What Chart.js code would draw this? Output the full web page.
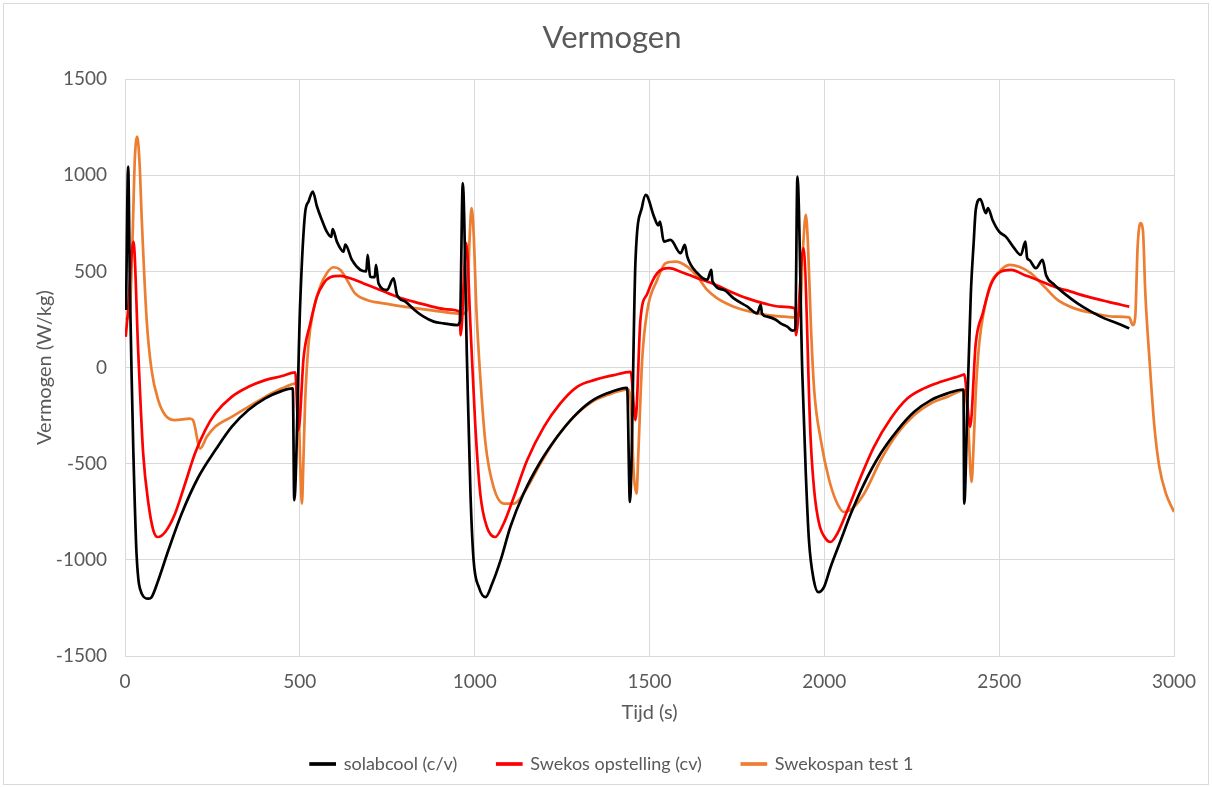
<!DOCTYPE html>
<html>
<head>
<meta charset="utf-8">
<title>Vermogen</title>
<script src="https://cdn.jsdelivr.net/npm/chart.js@4.4.1/dist/chart.umd.min.js"></script>
<style>
  body { margin: 0; background: #ffffff; }
  canvas { display: block; }
</style>
</head>
<body>
<canvas id="vermogenChart" width="1212" height="787"></canvas>
<script>
// meetreeksen: tijd (s) en vermogen (W/kg)
const solabcoolT = [3, 9, 14, 19, 24, 33, 48, 67, 76, 95, 124, 162, 210, 258, 305, 353, 401, 449, 480, 484,
  501, 515, 525, 537, 549, 563, 577, 590, 594, 606, 625, 630, 649, 673, 690, 694, 701, 714, 718, 725,
  749, 768, 778, 802, 828, 854, 883, 911, 950, 958, 966, 978, 988, 997, 1012, 1031, 1050, 1074, 1102, 1140,
  1188, 1236, 1283, 1331, 1379, 1436, 1444, 1460, 1479, 1489, 1494, 1513, 1525, 1530, 1541, 1560, 1589, 1601, 1608, 1637,
  1665, 1677, 1680, 1713, 1741, 1780, 1808, 1818, 1822, 1837, 1860, 1875, 1894, 1909, 1917, 1923, 1937, 1947, 1956, 1970,
  1983, 1999, 2018, 2047, 2076, 2114, 2161, 2209, 2257, 2305, 2352, 2398, 2400, 2410, 2419, 2427, 2433, 2446, 2462, 2468,
  2481, 2500, 2519, 2543, 2562, 2575, 2580, 2586, 2605, 2624, 2634, 2658, 2686, 2724, 2763, 2801, 2839, 2872];
const solabcoolP = [300, 1046, 420, -48, -447, -968, -1176, -1202, -1194, -1107, -950, -760, -569, -430, -308, -221, -160, -121, -108, -690,
  334, 803, 864, 916, 838, 768, 707, 680, 720, 655, 603, 640, 560, 508, 500, 586, 473, 470, 534, 438,
  404, 464, 378, 343, 300, 265, 239, 230, 221, 240, 959, 39, -655, -1003, -1142, -1194, -1124, -1003, -829, -655,
  -490, -360, -256, -178, -134, -105, -699, 560, 838, 898, 890, 785, 740, 760, 655, 664, 595, 638, 577, 491,
  456, 508, 450, 404, 360, 317, 282, 326, 280, 265, 250, 230, 213, 192, 200, 994, -30, -551, -898, -1107,
  -1168, -1142, -1037, -898, -759, -603, -447, -326, -230, -169, -134, -114, -707, -134, 386, 647, 820, 876, 803, 830,
  768, 707, 681, 621, 586, 655, 570, 560, 517, 560, 482, 430, 386, 334, 291, 256, 230, 204];

const swekosT = [2, 8, 24, 38, 52, 67, 81, 94, 115, 143, 172, 200, 229, 258, 305, 353, 401, 449, 487, 496,
  511, 530, 549, 568, 587, 616, 644, 682, 730, 778, 825, 873, 921, 957, 960, 976, 988, 1002, 1016, 1035,
  1059, 1083, 1112, 1150, 1198, 1245, 1293, 1341, 1398, 1446, 1460, 1474, 1494, 1522, 1556, 1589, 1637, 1684, 1732, 1780,
  1827, 1875, 1916, 1919, 1940, 1961, 1971, 1985, 2004, 2018, 2037, 2066, 2104, 2142, 2190, 2238, 2285, 2333, 2395, 2400,
  2417, 2433, 2453, 2476, 2505, 2534, 2572, 2610, 2658, 2705, 2753, 2810, 2872];
const swekosP = [160, 282, 655, 74, -447, -707, -846, -881, -855, -760, -603, -447, -326, -239, -152, -100, -65, -44, -25, -325,
  56, 230, 369, 438, 470, 477, 465, 438, 404, 369, 343, 320, 303, 291, 169, 647, 213, -308, -655, -829,
  -881, -811, -673, -482, -308, -186, -100, -65, -39, -22, -273, 247, 386, 491, 517, 499, 465, 435, 395, 360,
  334, 317, 308, 169, 621, -378, -638, -811, -890, -907, -864, -742, -569, -412, -265, -160, -108, -74, -39, -35,
  -308, 126, 282, 430, 499, 508, 482, 456, 421, 395, 369, 343, 317];

const swekospanT = [3, 14, 22, 28, 35, 42, 48, 62, 76, 95, 115, 143, 186, 195, 215, 234, 258, 305, 353, 401,
  449, 491, 496, 502, 506, 510, 515, 525, 539, 558, 577, 596, 616, 635, 658, 692, 740, 787, 835, 883,
  930, 964, 978, 985, 991, 997, 1005, 1016, 1031, 1054, 1083, 1112, 1140, 1188, 1236, 1283, 1331, 1379, 1441, 1447,
  1455, 1463, 1468, 1479, 1494, 1522, 1546, 1575, 1608, 1637, 1665, 1694, 1741, 1789, 1837, 1885, 1918, 1930, 1940, 1947,
  1953, 1962, 1971, 1990, 2014, 2037, 2056, 2080, 2114, 2161, 2209, 2257, 2305, 2352, 2400, 2410, 2421, 2427, 2433, 2443,
  2457, 2476, 2500, 2529, 2557, 2591, 2629, 2667, 2715, 2772, 2829, 2872, 2882, 2889, 2896, 2904, 2911, 2918, 2930, 2944,
  2958, 2977, 3000];
const swekospanP = [250, 300, 700, 1080, 1202, 1050, 768, 247, -13, -169, -247, -273, -265, -275, -421, -360, -308, -256, -204, -152,
  -108, -82, -180, -550, -707, -500, -185, 126, 300, 421, 491, 522, 508, 456, 386, 352, 334, 320, 308, 296,
  285, 279, 300, 650, 829, 700, 300, -48, -395, -621, -707, -707, -655, -499, -360, -256, -183, -143, -114, -200,
  -550, -655, -450, 39, 300, 456, 543, 551, 525, 473, 404, 360, 317, 291, 273, 265, 261, 280, 650, 794,
  650, 200, -117, -378, -586, -707, -751, -733, -655, -482, -343, -247, -186, -152, -117, -250, -595, -400, -134, 126,
  300, 438, 499, 534, 525, 491, 421, 352, 308, 282, 265, 261, 221, 260, 629, 751, 716, 386, 39, -308,
  -516, -655, -751];

const seriesNames = ['solabcool (c/v)', 'Swekos opstelling (cv)', 'Swekospan test 1'];
const seriesColors = ['#000000', '#ff0000', '#ed7d31'];

function toPoints(ts, ps) {
  return ts.map((t, i) => ({ x: t, y: ps[i] }));
}

const grey = '#595959';
const gridGrey = '#d9d9d9';
Chart.defaults.font.family = "Lato, 'Open Sans', sans-serif";
Chart.defaults.color = grey;

// witte achtergrond met dunne grijze rand rond de hele grafiek
const frame = {
  id: 'frame',
  beforeDraw(chart) {
    const c = chart.ctx;
    c.save();
    c.fillStyle = '#ffffff';
    c.fillRect(0, 0, chart.width, chart.height);
    c.strokeStyle = gridGrey;
    c.lineWidth = 1;
    c.strokeRect(3.5, 3.5, 1205, 781);
    c.restore();
  }
};

const raw = [[solabcoolT, solabcoolP], [swekosT, swekosP], [swekospanT, swekospanP]];
const datasets = raw.map((r, i) => ({
  label: seriesNames[i],
  data: toPoints(r[0], r[1]),
  borderColor: seriesColors[i],
  backgroundColor: seriesColors[i],
  borderWidth: 2.7,
  pointRadius: 0,
  showLine: true,
  cubicInterpolationMode: 'monotone'
}));

// getallen zonder duizendtalscheiding
const plain = (v) => String(v);

const ctx = document.getElementById('vermogenChart').getContext('2d');
const vermogenChart = new Chart(ctx, {
  type: 'scatter',
  data: { datasets: datasets },
  plugins: [frame],
  options: {
    responsive: false,
    animation: false,
    layout: { padding: { left: 50, right: 38, top: 0, bottom: 4 } },
    plugins: {
      title: {
        display: true,
        text: 'Vermogen',
        color: grey,
        font: { size: 31, weight: 'normal' },
        padding: { top: 19, bottom: 23 }
      },
      legend: {
        position: 'bottom',
        labels: {
          boxWidth: 24,
          boxHeight: 1,
          padding: 40,
          color: grey,
          font: { size: 18 }
        }
      },
      tooltip: { enabled: false }
    },
    scales: {
      x: {
        type: 'linear',
        min: 0,
        max: 3000,
        afterFit: (s) => { s.height = 59; },
        ticks: { stepSize: 500, padding: 14, color: grey, font: { size: 19 }, callback: plain },
        grid: { color: gridGrey, drawTicks: false },
        border: { color: gridGrey },
        title: { display: true, text: 'Tijd (s)', color: grey, font: { size: 20 }, padding: { top: 0, bottom: -10 } }
      },
      y: {
        min: -1500,
        max: 1500,
        afterFit: (s) => { s.width = 75; },
        ticks: { stepSize: 500, padding: 18, color: grey, font: { size: 19 }, callback: plain },
        grid: { color: gridGrey, drawTicks: false },
        border: { color: gridGrey },
        title: { display: true, text: 'Vermogen (W/kg)', color: grey, font: { size: 20 }, padding: { top: -17, bottom: 0 } }
      }
    }
  }
});
</script>
</body>
</html>
